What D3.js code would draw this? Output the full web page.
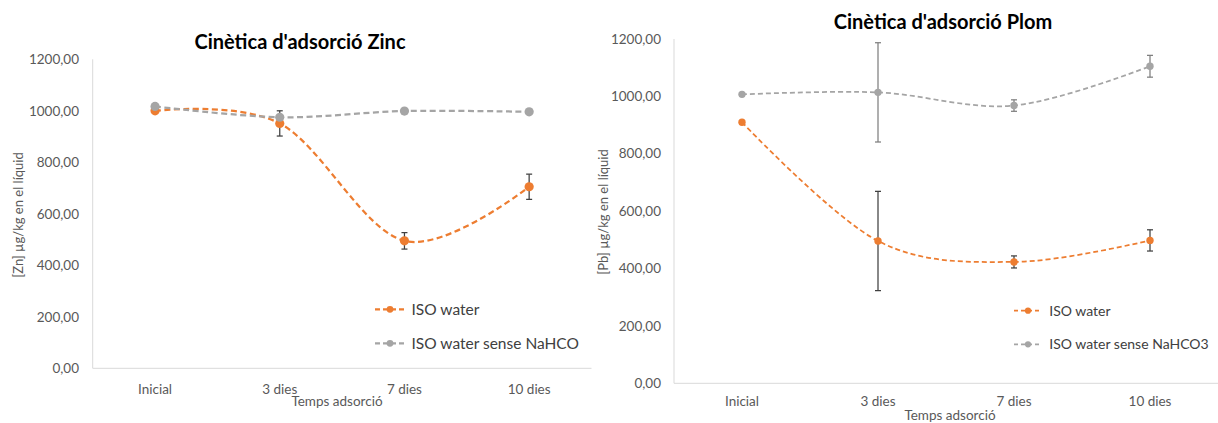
<!DOCTYPE html>
<html>
<head>
<meta charset="utf-8">
<script src="https://cdn.jsdelivr.net/npm/d3@7"></script>
<style>
  html, body { margin: 0; padding: 0; background: #fff; }
  svg { display: block; }
  text { font-family: Lato, "Open Sans", sans-serif; }
</style>
</head>
<body>
<svg id="chart" width="1218" height="423"></svg>
<script>
// Sampling times
const categories = ["Inicial", "3 dies", "7 dies", "10 dies"];
const yTicks = [0, 200, 400, 600, 800, 1000, 1200];

// Zinc: concentration in the liquid (µg/kg) and standard deviation
const zincIso = [1000, 951, 495, 705];
const zincIsoErr = [0, 49, 32, 49];
const zincSense = [1017, 975, 999, 996];
const zincSenseErr = [0, 0, 0, 0];

// Lead: concentration in the liquid (µg/kg) and standard deviation
const plomIso = [910, 496, 423, 498];
const plomIsoErr = [0, 173, 21, 37];
const plomSense = [1007, 1014, 968, 1105];
const plomSenseErr = [0, 173, 20, 38];

const seriesNames = ["ISO water", "ISO water sense NaHCO", "ISO water sense NaHCO3"];

const ORANGE = "#ED7D31";
const GREY = "#A5A5A5";
const AXIS = "#D9D9D9";
const LABEL = "#595959";

const svg = d3.select("#chart");
const fmt = v => d3.format(".2f")(v).replace(".", ",");

function drawChart(o) {
  const g = svg.append("g");
  const x = d3.scaleBand().domain(categories).range([o.x0, o.x1]);
  const y = d3.scaleLinear().domain([0, 1200]).range([o.yBottom, o.yTop]);
  const cx = c => x(c) + x.bandwidth() / 2;

  // axes
  g.append("line").attr("x1", o.x0).attr("x2", o.x0)
    .attr("y1", y(1200)).attr("y2", y(0))
    .attr("stroke", AXIS).attr("stroke-width", 1);
  g.append("line").attr("x1", o.x0).attr("x2", o.x1)
    .attr("y1", y(0)).attr("y2", y(0))
    .attr("stroke", AXIS).attr("stroke-width", 1);

  // y tick labels
  g.selectAll(".ytick").data(yTicks).join("text")
    .attr("x", o.yLabelX).attr("y", d => y(d)).attr("dy", "0.35em")
    .attr("text-anchor", "end").attr("font-size", o.tickSize).attr("fill", LABEL)
    .text(fmt);

  // x tick labels
  g.selectAll(".xtick").data(categories).join("text")
    .attr("x", cx).attr("y", o.xLabelY)
    .attr("text-anchor", "middle").attr("font-size", o.tickSize).attr("fill", LABEL)
    .text(d => d);

  // axis titles
  g.append("text").attr("x", o.xTitle[0]).attr("y", o.xTitle[1])
    .attr("text-anchor", "middle").attr("font-size", o.tickSize).attr("fill", LABEL)
    .text("Temps adsorció");
  g.append("text")
    .attr("transform", `translate(${o.yTitle[0]},${o.yTitle[1]}) rotate(-90)`)
    .attr("text-anchor", "middle").attr("dy", "0.35em")
    .attr("font-size", o.yTitleSize).attr("fill", LABEL)
    .text(o.yTitleText);

  // chart title
  g.append("text").attr("x", o.title[0]).attr("y", o.title[1])
    .attr("text-anchor", "middle").attr("font-size", o.titleSize)
    .attr("font-weight", "bold").attr("fill", "#000")
    .text(o.titleText);

  const line = d3.line()
    .x((d, i) => cx(categories[i]))
    .y(d => y(d))
    .curve(d3.curveCardinal.tension(0));

  o.series.forEach(s => {
    g.append("path").datum(s.values)
      .attr("d", line).attr("fill", "none")
      .attr("stroke", s.color).attr("stroke-width", o.lineWidth)
      .attr("stroke-dasharray", o.dash);
  });

  // error bars
  o.series.forEach(s => {
    s.values.forEach((v, i) => {
      const e = s.err[i];
      if (!e) return;
      const px = cx(categories[i]);
      const eg = g.append("g").attr("stroke", s.errColor).attr("stroke-width", 1.25);
      eg.append("line").attr("x1", px).attr("x2", px).attr("y1", y(v + e)).attr("y2", y(v - e));
      eg.append("line").attr("x1", px - 3).attr("x2", px + 3).attr("y1", y(v + e)).attr("y2", y(v + e));
      eg.append("line").attr("x1", px - 3).attr("x2", px + 3).attr("y1", y(v - e)).attr("y2", y(v - e));
    });
  });

  // markers
  o.series.forEach(s => {
    g.selectAll(null).data(s.values).join("circle")
      .attr("cx", (d, i) => cx(categories[i])).attr("cy", d => y(d))
      .attr("r", o.markerR).attr("fill", s.color);
  });

  // legend
  o.series.forEach((s, k) => {
    const ly = o.legendY[k];
    g.append("line").attr("x1", o.legendX[0]).attr("x2", o.legendX[1])
      .attr("y1", ly).attr("y2", ly)
      .attr("stroke", s.color).attr("stroke-width", o.lineWidth)
      .attr("stroke-dasharray", o.legendDash);
    g.append("circle").attr("cx", (o.legendX[0] + o.legendX[1]) / 2).attr("cy", ly)
      .attr("r", o.legendR).attr("fill", s.color);
    g.append("text").attr("x", o.legendX[2]).attr("y", ly).attr("dy", "0.35em")
      .attr("font-size", o.legendSize).attr("fill", "#404040")
      .text(s.name);
  });
}

drawChart({
  x0: 92.7, x1: 591.5, yBottom: 368.3, yTop: 59.3,
  yLabelX: 79, xLabelY: 393.5, tickSize: 13.5,
  xTitle: [337, 406], yTitle: [18.5, 215], yTitleSize: 13,
  yTitleText: "[Zn] µg/kg en el líquid",
  title: [300, 48.5], titleSize: 20, titleText: "Cinètica d'adsorció Zinc",
  lineWidth: 2.25, dash: "6,3.5", markerR: 4.6,
  legendX: [375, 405, 411.5], legendY: [309.3, 343.3], legendDash: "5,3", legendR: 3.4,
  legendSize: 15.5,
  series: [
    { name: seriesNames[0], values: zincIso, err: zincIsoErr, color: ORANGE, errColor: "#404040" },
    { name: seriesNames[1], values: zincSense, err: zincSenseErr, color: GREY, errColor: "#7F7F7F" }
  ]
});

drawChart({
  x0: 674, x1: 1218, yBottom: 383.3, yTop: 39,
  yLabelX: 661, xLabelY: 406, tickSize: 13.5,
  xTitle: [950, 420], yTitle: [603.5, 212], yTitleSize: 13,
  yTitleText: "[Pb] µg/kg en el líquid",
  title: [943, 29], titleSize: 20, titleText: "Cinètica d'adsorció Plom",
  lineWidth: 1.75, dash: "5,3", markerR: 3.7,
  legendX: [1014, 1042, 1049.3], legendY: [310.7, 344.3], legendDash: "4,3", legendR: 3.1,
  legendSize: 14,
  series: [
    { name: seriesNames[0], values: plomIso, err: plomIsoErr, color: ORANGE, errColor: "#404040" },
    { name: seriesNames[2], values: plomSense, err: plomSenseErr, color: GREY, errColor: "#7F7F7F" }
  ]
});
</script>
</body>
</html>
